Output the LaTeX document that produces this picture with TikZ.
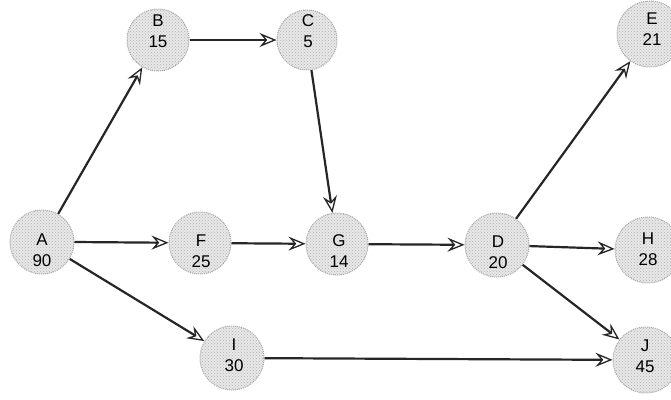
\documentclass[tikz,border=0pt]{standalone}
\usepackage{fontspec}
\setmainfont{Liberation Sans}
\usetikzlibrary{arrows.meta,patterns}
\begin{document}
\begin{tikzpicture}[x=1pt,y=-1pt,
  task/.style={circle, minimum size=64pt, inner sep=0pt, fill=gray!18,
    draw=gray!70, densely dotted, line width=1pt,
    postaction={pattern=crosshatch dots, pattern color=gray!60},
    align=center, font=\fontsize{17}{20}\selectfont, text=black},
  tlabel/.style={align=center, font=\fontsize{17}{21}\selectfont, inner sep=0pt},
  link/.style={draw=black!85, line width=2.2pt,
    -{Stealth[open, length=17pt, width=14pt, inset=6pt, line width=1.3pt]}}]
\useasboundingbox (0,0) rectangle (671,399);
\clip (0,0) rectangle (671,399);
\node[task] (A) at (42,242) {};
\node[task, minimum size=62pt] (B) at (158,40) {};
\node[task, minimum size=60pt] (C) at (307,40) {};
\node[task, minimum size=62pt] (F) at (200,243) {};
\node[task, minimum size=62pt] (G) at (337,244) {};
\node[task, minimum size=64pt] (D) at (497,245) {};
\node[task, minimum size=66pt] (E) at (650,34) {};
\node[task, minimum size=66pt] (H) at (648,250) {};
\node[task, minimum size=64pt] (I) at (232,358) {};
\node[task, minimum size=66pt] (J) at (646,360) {};
\node[tlabel] (tA) at (42,250) {A\\90};
\node[tlabel] (tB) at (158,31) {B\\15};
\node[tlabel] (tC) at (308,31) {C\\5};
\node[tlabel] (tF) at (201,251) {F\\25};
\node[tlabel] (tG) at (339,251) {G\\14};
\node[tlabel] (tD) at (498,252) {D\\20};
\node[tlabel] (tE) at (652,29) {E\\21};
\node[tlabel] (tH) at (648,249) {H\\28};
\node[tlabel] (tI) at (234,355) {I\\30};
\node[tlabel] (tJ) at (645,356) {J\\45};
\draw[link] (A) -- (B);
\draw[link] (A.east) -- (F);
\draw[link] (A) -- (I);
\draw[link] (B) -- (C);
\draw[link] (C) -- (G);
\draw[link] (F) -- (G);
\draw[link] (G) -- (D);
\draw[link] (D) -- (E);
\draw[link] (D) -- (H);
\draw[link] (D) -- (J);
\draw[link] (I) -- (J);
\end{tikzpicture}
\end{document}
